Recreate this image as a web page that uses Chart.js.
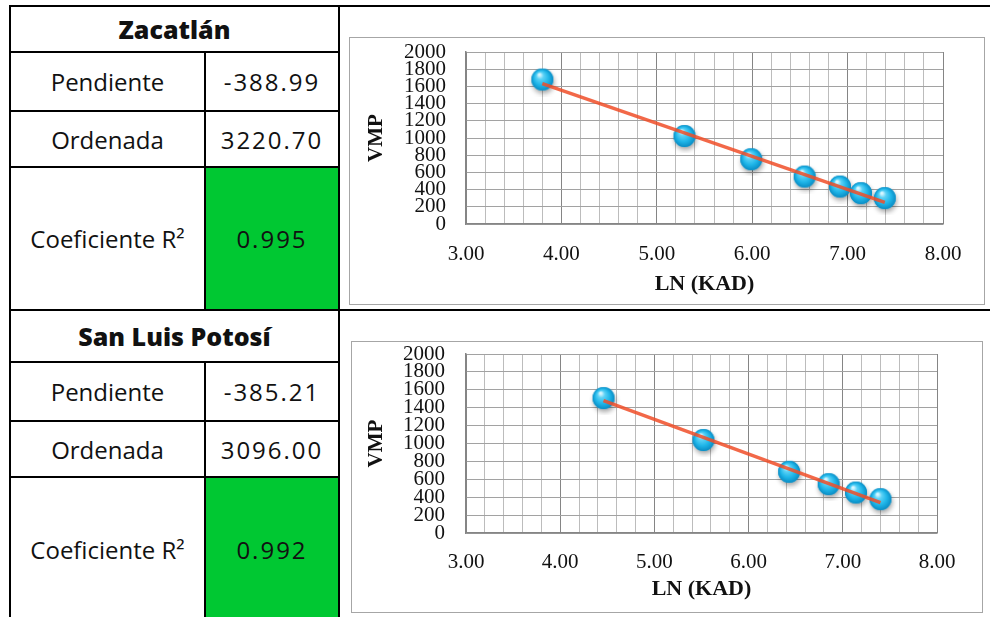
<!DOCTYPE html>
<html>
<head>
<meta charset="utf-8">
<script src="https://cdn.jsdelivr.net/npm/chart.js@4/dist/chart.umd.min.js"></script>
<style>
  html, body { margin: 0; padding: 0; background: #fff; }
  body { width: 990px; height: 617px; position: relative; overflow: hidden; }
  .cell {
    position: absolute; box-sizing: border-box; border: 2px solid #000;
    display: flex; align-items: center; justify-content: center;
    font-family: "Open Sans", "Noto Sans", sans-serif; font-size: 24px; color: #111;
  }
  .head { font-weight: 800; font-size: 25px; }
  .val { letter-spacing: 2px; }
  .green { background: #00C832; }
  .frame {
    position: absolute; box-sizing: border-box; border: 1px solid #a6a6a6; background: #fff;
  }
  .frame canvas { display: block; }
</style>
</head>
<body>
<div id="tables"></div>
<div class="frame" id="frame1" style="left:349px; top:37px; width:636px; height:268px;">
  <canvas id="chartZac" width="634" height="266"></canvas>
</div>
<div class="frame" id="frame2" style="left:351px; top:341px; width:632px; height:272px;">
  <canvas id="chartSlp" width="630" height="270"></canvas>
</div>
<script>
// Regression summaries per locality
const localities = ['Zacatlán', 'San Luis Potosí'];
const rowLabels = ['Pendiente', 'Ordenada', 'Coeficiente R²'];
const zacStats = ['-388.99', '3220.70', '0.995'];
const slpStats = ['-385.21', '3096.00', '0.992'];

// Zacatlán: LN (KAD) vs VMP
const zacX = [3.80, 5.29, 5.99, 6.55, 6.92, 7.14, 7.39];
const zacY = [1680, 1023, 753, 552, 436, 359, 301];
const zacTrendX = [3.80, 7.39];
const zacTrendY = [1633, 251];

// San Luis Potosí: LN (KAD) vs VMP
const slpX = [4.46, 5.52, 6.43, 6.85, 7.14, 7.40];
const slpY = [1507, 1039, 684, 546, 452, 378];
const slpTrendX = [4.46, 7.40];
const slpTrendY = [1480, 340];

// Axis tick labels
const xTickLabels = ['3.00', '4.00', '5.00', '6.00', '7.00', '8.00'];
const yTickLabels = ['0', '200', '400', '600', '800', '1000', '1200', '1400', '1600', '1800', '2000'];
const xTitle = 'LN (KAD)';
const yTitle = 'VMP';

// ---------- left-hand tables ----------
const host = document.getElementById('tables');
function cell(x0, y0, x1, y1, html, cls) {
  const d = document.createElement('div');
  d.className = 'cell ' + (cls || '');
  d.style.left = (x0 - 1) + 'px';
  d.style.top = (y0 - 1) + 'px';
  d.style.width = (x1 - x0 + 2) + 'px';
  d.style.height = (y1 - y0 + 2) + 'px';
  d.innerHTML = html;
  host.appendChild(d);
  return d;
}
function block(name, stats, rows) {
  // rows: y positions of the horizontal rules
  cell(10, rows[0], 339, rows[1], name, 'head');
  for (let i = 0; i < 3; i++) {
    cell(10, rows[i + 1], 205, rows[i + 2], rowLabels[i]);
    cell(205, rows[i + 1], 339, rows[i + 2], stats[i], 'val' + (i === 2 ? ' green' : ''));
  }
  const c = cell(339, rows[0], 1000, rows[4], '');
  c.style.borderRight = 'none';
}
block(localities[0], zacStats, [6, 52, 111, 167, 310]);
block(localities[1], slpStats, [310, 362, 421, 477, 621]);

// ---------- sphere marker ----------
function makeBall() {
  const size = 34, r = 11, c = size / 2;
  const cv = document.createElement('canvas');
  cv.width = size; cv.height = size;
  const g = cv.getContext('2d');
  g.save();
  g.shadowColor = 'rgba(0,0,0,0.35)';
  g.shadowBlur = 5;
  g.shadowOffsetX = 1;
  g.shadowOffsetY = 3;
  g.beginPath(); g.arc(c, c, r, 0, Math.PI * 2);
  g.fillStyle = '#1aa9dc'; g.fill();
  g.restore();
  const grad = g.createRadialGradient(c - 3, c - 5, 1, c, c, r);
  grad.addColorStop(0, '#d8f6ff');
  grad.addColorStop(0.25, '#5cd2f6');
  grad.addColorStop(0.65, '#1eb5e8');
  grad.addColorStop(1, '#0a8cc4');
  g.beginPath(); g.arc(c, c, r, 0, Math.PI * 2);
  g.fillStyle = grad; g.fill();
  return cv;
}
const ball = makeBall();

// ---------- charts ----------
function isWhole(v) { return Math.abs(v - Math.round(v)) < 1e-6; }
function labelFor(list, v) {
  const hit = list.find(s => Math.abs(parseFloat(s) - v) < 1e-6);
  return hit === undefined ? '' : hit;
}
const serif = '"Liberation Serif", "Times New Roman", serif';

function drawChart(id, xs, ys, tx, ty, geo) {
  const pts = xs.map((x, i) => ({ x: x, y: ys[i] }));
  const trend = tx.map((x, i) => ({ x: x, y: ty[i] }));
  new Chart(document.getElementById(id), {
    type: 'scatter',
    data: {
      datasets: [
        {
          label: 'Tendencia', data: trend, showLine: true, order: 0,
          borderColor: 'rgba(240,78,40,0.85)', borderWidth: 3.5,
          pointRadius: 0, fill: false
        },
        {
          label: yTitle, data: pts, order: 1, showLine: false,
          pointStyle: ball, pointRadius: 11
        }
      ]
    },
    options: {
      responsive: false, animation: false,
      layout: { padding: { left: 0, top: geo.top, right: geo.right, bottom: 0 } },
      plugins: { legend: { display: false }, tooltip: { enabled: false } },
      scales: {
        x: {
          type: 'linear', min: 3, max: 8,
          afterFit: s => { s.height = geo.xh; s.paddingLeft = 0; s.paddingRight = 0; },
          ticks: {
            stepSize: 0.2, maxTicksLimit: 100, autoSkip: false, maxRotation: 0,
            padding: geo.xpad, color: '#111',
            font: { family: serif, size: 21 },
            callback: v => isWhole(v) ? labelFor(xTickLabels, v) : ''
          },
          grid: {
            drawTicks: false, lineWidth: 1,
            color: ctx => (ctx.tick && isWhole(ctx.tick.value)) ? '#858585' : '#bcbcbc'
          },
          border: { color: '#858585', width: 1.5 },
          title: {
            display: true, text: xTitle, color: '#111',
            font: { family: serif, size: 22, weight: 'bold' },
            padding: { top: 0, bottom: geo.xtpad }
          }
        },
        y: {
          type: 'linear', min: 0, max: 2000,
          afterFit: s => { s.width = geo.yw; s.paddingTop = 0; s.paddingBottom = 0; },
          ticks: {
            stepSize: 200, autoSkip: false, padding: geo.ypad, color: '#111',
            font: { family: serif, size: 21 },
            callback: v => labelFor(yTickLabels, v)
          },
          grid: { drawTicks: false, lineWidth: 1, color: '#a2a2a2' },
          border: { color: '#858585', width: 1.5 },
          title: {
            display: true, text: yTitle, color: '#111',
            font: { family: serif, size: 21, weight: 'bold' },
            padding: { top: geo.ytpad, bottom: 0 }
          }
        }
      }
    }
  });
}

drawChart('chartZac', zacX, zacY, zacTrendX, zacTrendY,
  { top: 14, right: 41, xh: 80, yw: 116, xpad: 18, ypad: 20, xtpad: 6, ytpad: 14 });
drawChart('chartSlp', slpX, slpY, slpTrendX, slpTrendY,
  { top: 12, right: 45, xh: 79, yw: 114, xpad: 17, ypad: 21, xtpad: 9, ytpad: 12 });
</script>
</body>
</html>
